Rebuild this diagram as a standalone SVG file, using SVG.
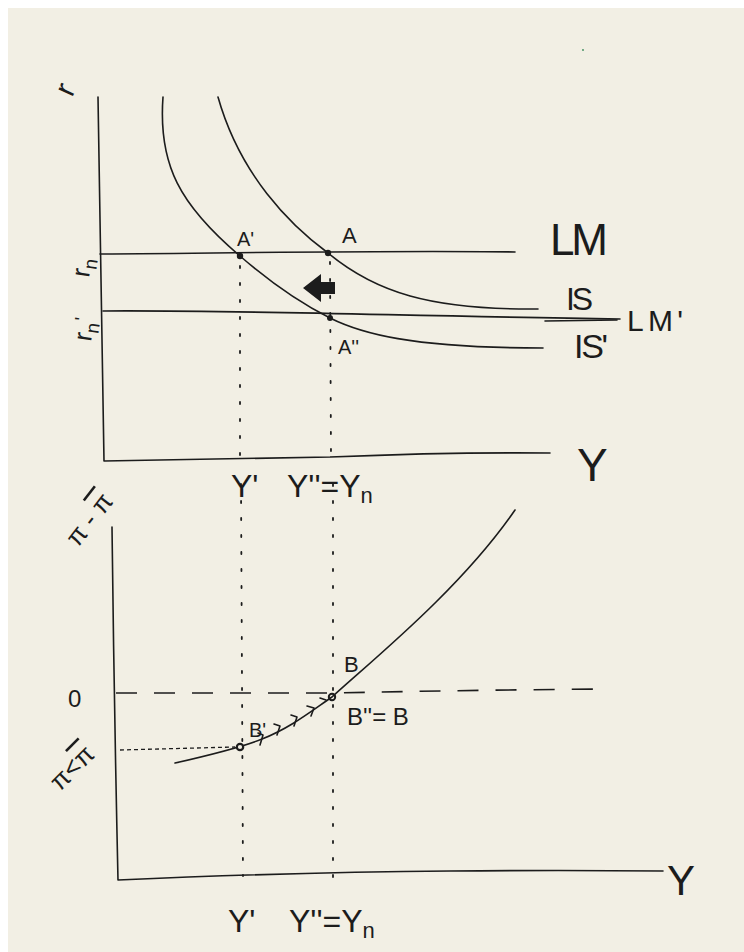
<svg xmlns="http://www.w3.org/2000/svg" width="744" height="952" viewBox="0 0 744 952">
<style>
.ln{fill:none;stroke:#1c1c1c;stroke-width:1.6;stroke-linecap:round;stroke-linejoin:round}
.dot{fill:none;stroke:#1c1c1c;stroke-width:1.8;stroke-linecap:round;stroke-dasharray:2 15}
.dash{fill:none;stroke:#1c1c1c;stroke-width:1.6;stroke-dasharray:21 17}
.fine{fill:none;stroke:#1c1c1c;stroke-width:1.3;stroke-dasharray:4 3}
.t{font-family:"Liberation Sans",Arial,sans-serif;fill:#1c1c1c}
.pt{fill:#1c1c1c}
</style>
<rect x="0" y="0" width="744" height="952" fill="#ffffff"/>
<rect x="8" y="8" width="736" height="944" fill="#f2efe4"/>
<circle cx="583" cy="50" r="0.9" fill="#3a8a5a"/>

<g id="top-axes">
<path class="ln" d="M98,97 Q101,300 104,461 L330,457 Q450,452 550,453"/>
<text class="t" font-size="30" transform="translate(72,98) rotate(-65)">r</text>
<text class="t" font-size="46" x="577" y="481">Y</text>
<text class="t" font-size="26" transform="translate(89,278) rotate(-82)">r<tspan font-size="19" dy="6">n</tspan></text>
<text class="t" font-size="26" transform="translate(91,342) rotate(-82)">r<tspan font-size="19" dy="6">n</tspan><tspan dy="-12" font-size="19">'</tspan></text>
</g>

<g id="curve-IS">
<path class="ln" d="M218,97 C240,175 290,225 328,253 C375,292 430,310 538,309"/>
<text class="t" font-size="32" x="566" y="310" textLength="27">IS</text>
</g>
<g id="curve-IS-prime">
<path class="ln" d="M163,97 C158,165 180,205 240,256 C270,282 300,303 330,318 C360,333 410,348 543,348"/>
<text class="t" font-size="34" x="574" y="358" textLength="34">IS'</text>
</g>
<g id="curve-LM">
<path class="ln" d="M100,254 C250,253 400,250 515,252"/>
<text class="t" font-size="44" x="550" y="255" textLength="58">LM</text>
</g>
<g id="curve-LM-prime">
<path class="ln" d="M103,311 C250,310 400,316 620,319"/>
<path class="ln" d="M545,321 L617,320"/>
<text class="t" font-size="30" x="627" y="331" textLength="56">LM'</text>
</g>

<g id="point-A">
<circle class="pt" cx="328" cy="253" r="3.2"/>
<text class="t" font-size="22" x="342" y="243">A</text>
</g>
<g id="point-A-prime">
<circle class="pt" cx="240" cy="256" r="3.2"/>
<text class="t" font-size="20" x="237" y="246">A'</text>
</g>
<g id="point-A-dprime">
<circle class="pt" cx="330" cy="318" r="3"/>
<text class="t" font-size="20" x="338" y="354">A''</text>
</g>
<g id="shift-arrow">
<path class="pt" d="M303,288 L321,274 L321,282 L335,282 L335,294 L321,294 L321,302 Z"/>
</g>

<g id="top-x-labels">
<text class="t" font-size="32" x="231" y="497">Y'</text>
<text class="t" font-size="32" x="287" y="497">Y''=Y<tspan font-size="22" dy="6">n</tspan></text>
</g>

<g id="bottom-axes">
<path class="ln" d="M112,527 Q114,700 118,880 Q300,872 450,871 Q560,870 663,871"/>
<text class="t" font-size="26" transform="translate(78,548) rotate(-52)">π - <tspan text-decoration="overline">π</tspan></text>
<text class="t" font-size="24" x="68" y="707">0</text>
<text class="t" font-size="26" transform="translate(60,792) rotate(-45)">π&lt;<tspan text-decoration="overline">π</tspan></text>
<text class="t" font-size="42" x="667" y="895">Y</text>
<text class="t" font-size="32" x="228" y="932">Y'</text>
<text class="t" font-size="32" x="289" y="932">Y''=Y<tspan font-size="22" dy="6">n</tspan></text>
</g>

<g id="curve-phillips">
<path class="ln" d="M175,763 C210,755 240,748 262,739 C290,728 310,712 332,697 C370,662 460,590 515,510"/>
<path class="ln" d="M258,733 L263,735 L260,745 M274,724 L280,726 L277,735 M291,715 L297,717 L294,726 M307,706 L314,708 L311,716 M320,698 L326,700"/>
</g>
<g id="point-B">
<circle cx="332" cy="697" r="3.2" fill="none" stroke="#1c1c1c" stroke-width="2"/>
<text class="t" font-size="22" x="344" y="672">B</text>
<text class="t" font-size="24" x="347" y="725">B''= B</text>
</g>
<g id="point-B-prime">
<circle cx="240" cy="747" r="3.2" fill="#f2efe4" stroke="#1c1c1c" stroke-width="2.2"/>
<text class="t" font-size="20" x="249" y="737">B'</text>
</g>

<g id="connectors">
<path class="dot" d="M240,266 L240,455"/>
<path class="dot" d="M330,262 L331,455"/>
<path class="dot" d="M241,484 L243,876"/>
<path class="dot" d="M333,484 L333,880"/>
<path class="dash" d="M116,693 L335,693 Q470,690 607,689"/>
<path class="fine" d="M120,750 L235,747"/>
</g>
</svg>
